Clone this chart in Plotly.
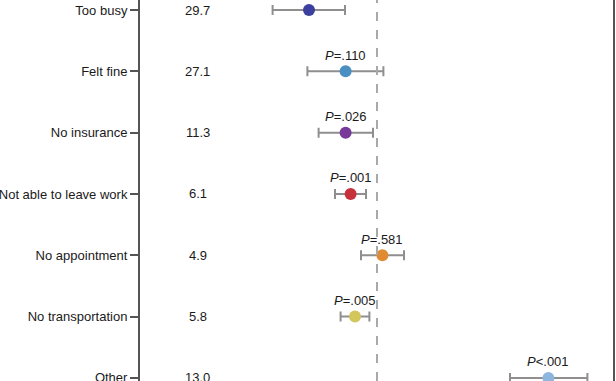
import plotly.graph_objects as go

categories = ["Too busy", "Felt fine", "No insurance", "Not able to leave work",
              "No appointment", "No transportation", "Other"]
percent = ["29.7", "27.1", "11.3", "6.1", "4.9", "5.8", "13.0"]
estimate = [0.66, 0.843, 0.843, 0.868, 1.027, 0.89, 1.857]
ci_low = [0.478, 0.652, 0.708, 0.79, 0.92, 0.818, 1.665]
ci_high = [0.84, 1.032, 0.98, 0.945, 1.135, 0.962, 2.052]
p_labels = [None, "<i>P</i>=.110", "<i>P</i>=.026", "<i>P</i>=.001",
            "<i>P</i>=.581", "<i>P</i>=.005", "<i>P</i><.001"]
colors = ["#3b3f9e", "#4b8fc2", "#773a98", "#c7313b", "#e08b32", "#d3c65c", "#8db5de"]
reference = 1.0

rows = list(range(len(categories)))

fig = go.Figure()
for i in rows:
    fig.add_trace(go.Scatter(
        x=[estimate[i]], y=[i], mode="markers",
        marker=dict(size=12, color=colors[i], line=dict(width=0)),
        error_x=dict(type="data", symmetric=False,
                     array=[ci_high[i] - estimate[i]],
                     arrayminus=[estimate[i] - ci_low[i]],
                     color="#8f8f8f", thickness=2, width=5),
        showlegend=False, cliponaxis=False,
    ))

annotations = []
for i in rows:
    annotations.append(dict(x=0.1226, xref="paper", y=i, yref="y", text=percent[i],
                            showarrow=False, xanchor="center", yanchor="middle",
                            font=dict(family="Liberation Sans, Arial", size=13, color="#1a1a1a")))
    if p_labels[i]:
        annotations.append(dict(x=estimate[i], xref="x", y=i, yref="y", text=p_labels[i],
                                showarrow=False, xanchor="center", yanchor="middle",
                                yshift=16,
                                font=dict(family="Liberation Sans, Arial", size=13, color="#1a1a1a")))

fig.add_shape(type="line", x0=reference, x1=reference, xref="x", y0=0, y1=1, yref="paper",
              line=dict(color="#a9a9a9", width=2, dash="dash"))

fig.update_layout(
    width=616, height=381,
    margin=dict(l=140, r=3, t=0, b=0, autoexpand=False),
    paper_bgcolor="white", plot_bgcolor="white",
    annotations=annotations,
    font=dict(family="Liberation Sans, Arial", size=13, color="#1a1a1a"),
    xaxis=dict(range=[-0.185, 2.18], showgrid=False, zeroline=False, showline=False,
               showticklabels=False, ticks="", automargin=False),
    yaxis=dict(range=[6.05, -0.163], tickvals=rows, ticktext=categories,
               showgrid=False, zeroline=False, showline=True, mirror=True,
               linecolor="#555", linewidth=2, ticks="outside", ticklen=8,
               tickwidth=1.5, tickcolor="#555", ticklabelstandoff=0, automargin=False,
               ticklabeloverflow="allow",
               tickfont=dict(family="Liberation Sans, Arial", size=13, color="#1a1a1a")),
)

fig.write_html("out.html", config={"displayModeBar": False},
               post_script="document.body.style.margin='0px';")
